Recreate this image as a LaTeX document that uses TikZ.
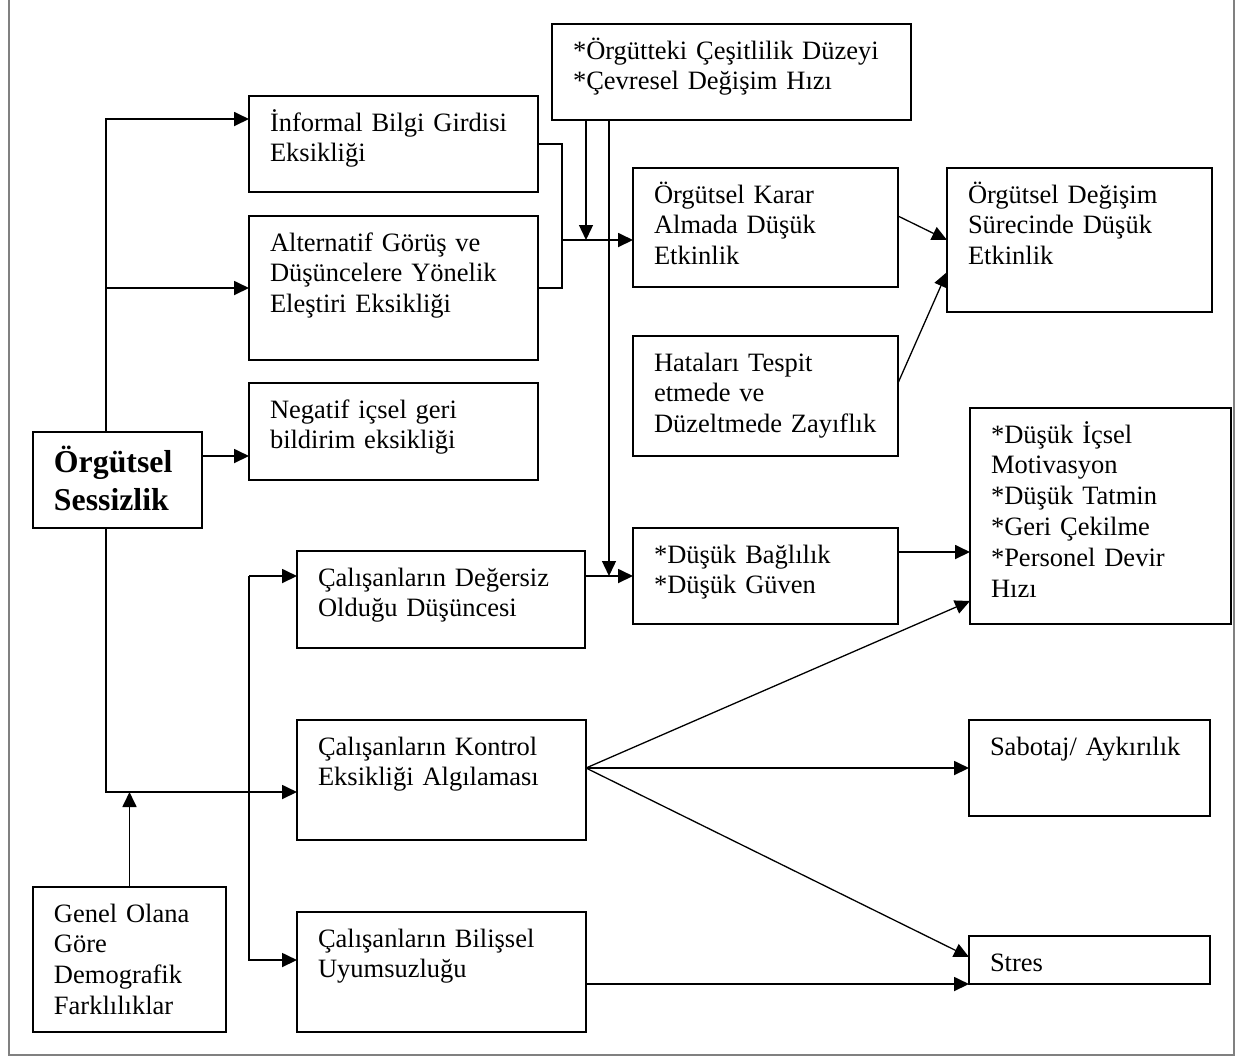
\documentclass[tikz,border=0pt]{standalone}
\usepackage{fontspec}
\setmainfont{Liberation Serif}
\usetikzlibrary{arrows.meta,calc}

\tikzset{
  boxshape/.style={draw, line width=0.85pt, rectangle, inner sep=0pt, outer sep=0pt},
  txt/.style={inner sep=0pt, outer sep=0pt, text width=300pt, align=left,
              font=\fontsize{13.25pt}{15.4pt}\selectfont},
  boldtxt/.style={txt, font=\fontsize{15.9pt}{19pt}\selectfont\bfseries},
  link/.style={line width=0.9pt},
  arr/.style={link, -{Triangle[length=7.5pt,width=7pt]}},
  arrthin/.style={line width=0.65pt, -{Triangle[length=7.5pt,width=7pt]}},
  framestyle/.style={draw=black!50, line width=1pt}
}

% \tbox[baseline offset]{name}{x1}{y1}{x2}{y2}{text}: box with top-left aligned text
\newcommand\tbox[7][35]{%
  \node[boxshape, anchor=north west,
        minimum width={(#5-#3)*0.5pt}, minimum height={(#6-#4)*0.5pt}]
        (#2) at (#3,#4) {};
  \node[txt, anchor=base west] (#2-t) at ($(#2.north west)+(21,#1)$) {#7};%
}
% a line break that is safe before a leading asterisk
\newcommand\nl{\\{}}

\begin{document}
\begin{tikzpicture}[x=0.5pt, y=-0.5pt]
\useasboundingbox (0,0) rectangle (1247,1057);

% outer frame (open at the top)
\coordinate (fa) at (9,-20);
\coordinate (fb) at (9,1055);
\coordinate (fc) at (1234,1055);
\coordinate (fd) at (1234,-20);
\draw[framestyle] (fa) -- (fb) -- (fc) -- (fd);

% boxes
\tbox{ces}{552}{24}{911}{120}{*Örgütteki Çeşitlilik Düzeyi\nl*Çevresel Değişim Hızı}
\tbox{inf}{249}{96}{538}{192}{İnformal Bilgi Girdisi\nl Eksikliği}
\tbox{alt}{249}{216}{538}{360}{Alternatif Görüş ve\nl Düşüncelere Yönelik\nl Eleştiri Eksikliği}
\tbox{kar}{633}{168}{898}{287}{Örgütsel Karar\nl Almada Düşük\nl Etkinlik}
\tbox{dgm}{947}{168}{1212}{312}{Örgütsel Değişim\nl Sürecinde Düşük\nl Etkinlik}
\tbox{hat}{633}{336}{898}{456}{Hataları Tespit\nl etmede ve\nl Düzeltmede Zayıflık}
\tbox{neg}{249}{383}{538}{480}{Negatif içsel geri\nl bildirim eksikliği}
\tbox{lst}{970}{408}{1231}{624}{*Düşük İçsel\nl Motivasyon\nl*Düşük Tatmin\nl*Geri Çekilme\nl*Personel Devir\nl Hızı}
\tbox{dgs}{297}{551}{585}{648}{Çalışanların Değersiz\nl Olduğu Düşüncesi}
\tbox{bag}{633}{528}{898}{624}{*Düşük Bağlılık\nl*Düşük Güven}
\tbox{kon}{297}{720}{586}{840}{Çalışanların Kontrol\nl Eksikliği Algılaması}
\tbox{sab}{969}{720}{1210}{816}{Sabotaj/ Aykırılık}
\tbox{str}{969}{936}{1210}{984}{Stres}
\tbox{gen}{33}{887}{226}{1032}{Genel Olana\nl Göre\nl Demografik\nl Farklılıklar}
\tbox{bil}{297}{912}{586}{1032}{Çalışanların Bilişsel\nl Uyumsuzluğu}

% central box, bold
\node[boxshape, anchor=north west, minimum width={169*0.5pt}, minimum height={96*0.5pt}]
  (org) at (33,432) {};
\node[boldtxt, anchor=base west] (org-t) at ($(org.north west)+(21,40)$) {Örgütsel\nl Sessizlik};

% junction points
\coordinate (j1) at (106,119);
\coordinate (j2) at (106,792);
\coordinate (j3) at (202,456);
\coordinate (j4) at (249,576);
\coordinate (j5) at (249,960);
\coordinate (j6) at (562,240);
\coordinate (v1) at (586,120);
\coordinate (v2) at (609,120);
\coordinate (f) at (586,768);

% connectors on the left
\draw[arr] (org.north -| j1) |- (inf.west |- j1);
\draw[arr] (j1 |- alt.west) -- (alt.west);
\draw[arr] (j3) -- (j3 -| neg.west);
\draw[arr] (org.south -| j2) |- (kon.west |- j2);
\draw[arr] (gen.north) -- (gen.north |- j2);
\draw[arr] (j4) -- (j4 -| dgs.west);
\draw[arr] (j4) |- (bil.west |- j5);

% bracket into decision box
\draw[link] (inf.east) -| (j6) |- (alt.east);
\draw[arr] (j6) -- (j6 -| kar.west);

% moderators from the top box
\draw[arrthin] (ces.south -| v1) -- (v1 |- j6);
\draw[arrthin] (ces.south -| v2) -- (v2 |- bag.west);
\draw[arr] (dgs.east |- bag.west) -- (bag.west);

% right-hand outcomes
\draw[arrthin] (kar.east |- 0,216) -- (dgm.west |- 0,240);
\draw[arrthin] (hat.east |- 0,383) -- (dgm.west |- 0,272);
\draw[arr] (bag.east |- 0,552) -- (lst.west |- 0,552);
\draw[arrthin] (f) -- (lst.west |- 0,601);
\draw[arr] (f) -- (sab.west);
\draw[arrthin] (f) -- (str.west |- 0,957);
\draw[arr] (bil.east |- str.south) -- (str.south west);
\end{tikzpicture}
\end{document}
